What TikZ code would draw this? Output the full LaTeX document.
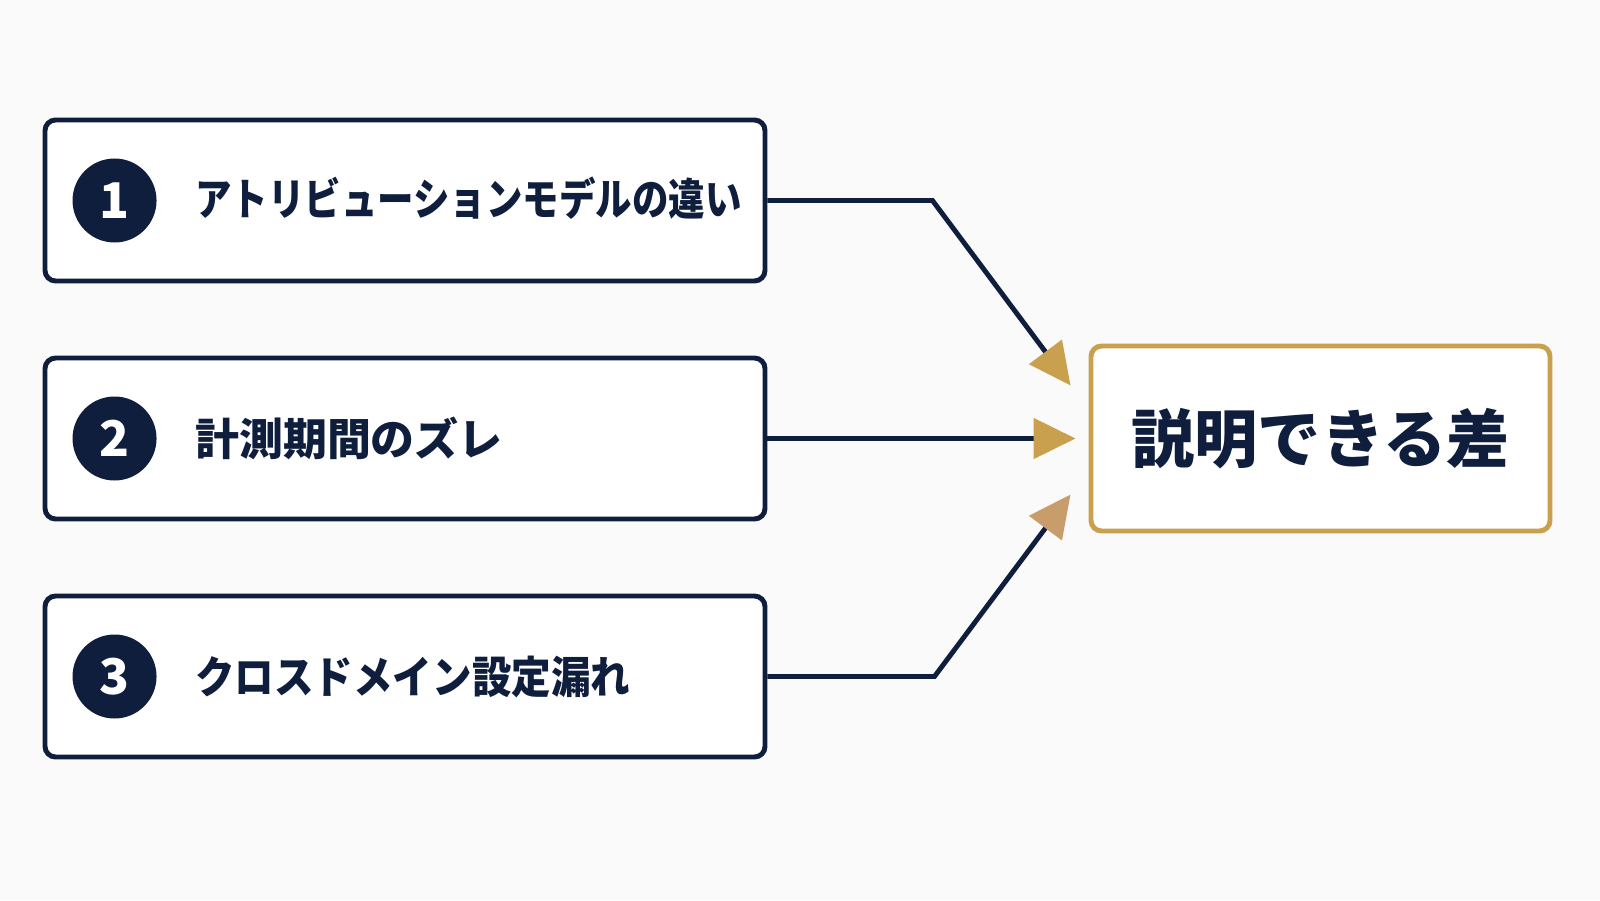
\documentclass[tikz,border=0pt]{standalone}
\usepackage{fontspec}
\newfontfamily\jpfont{Noto Sans CJK JP}
\usetikzlibrary{arrows.meta,positioning,calc}
\definecolor{navy}{HTML}{0F1E3C}
\definecolor{gold}{HTML}{C9A04E}
\definecolor{tan}{HTML}{C99C6C}
\tikzset{
  item/.style={draw=navy, line width=1.4pt, rounded corners=3pt, fill=white,
    minimum width=7.2cm, minimum height=1.61cm},
  num/.style={circle, fill=navy, text=white, minimum size=0.84cm, inner sep=0pt,
    font=\jpfont\bfseries\fontsize{14}{14}\selectfont},
  lbl/.style={anchor=west, text=navy, inner sep=0pt,
    font=\jpfont\bfseries\fontsize{12.5}{12.5}\selectfont},
  goal/.style={draw=gold, line width=1.4pt, rounded corners=3pt, fill=white,
    minimum width=4.59cm, minimum height=1.85cm, text=navy,
    font=\jpfont\bfseries\fontsize{18}{18}\selectfont},
  link/.style={draw=navy, line width=1.4pt},
}
\newcommand{\tipto}[1]{-{Triangle[length=0.42cm,width=0.4cm,color=#1]}}

\begin{document}
\begin{tikzpicture}
\fill[white!98!black] (0,0) rectangle (16,9);
\useasboundingbox (0,0) rectangle (16,9);

% causes
\node[item] (c1) at (4.05,6.995) {};
\node[item] (c2) at (4.05,4.615) {};
\node[item] (c3) at (4.05,2.235) {};
\foreach \i in {1,2,3} {
  \node[num] (n\i) at ($(c\i.west)+(0.72,0)$) {\i};
}
\node[lbl] (t1) at ($(c1.west)+(1.52,0.02)$) {\scalebox{0.83}[1]{アトリビューションモデルの違い}};
\node[lbl] (t2) at ($(c2.west)+(1.52,0)$) {計測期間のズレ};
\node[lbl] (t3) at ($(c3.west)+(1.52,0)$) {\scalebox{0.9}[1]{クロスドメイン設定漏れ}};

% result
\node[goal] (g) at (13.205,4.615) {説明できる差};

\coordinate (k1) at ($(c1.east)+(1.65,0)$);
\coordinate (k3) at ($(c3.east)+(1.67,0)$);
\coordinate (p1) at ($(g.west)+(-0.18,0.53)$);
\coordinate (p2) at ($(g.west)+(-0.13,0)$);
\coordinate (p3) at ($(g.west)+(-0.18,-0.56)$);

\draw[link, \tipto{gold}] (c1.east) -- (k1) -- (p1);
\draw[link, \tipto{gold}] (c2.east) -- (p2);
\draw[link, \tipto{tan}] (c3.east) -- (k3) -- (p3);

\end{tikzpicture}
\end{document}
